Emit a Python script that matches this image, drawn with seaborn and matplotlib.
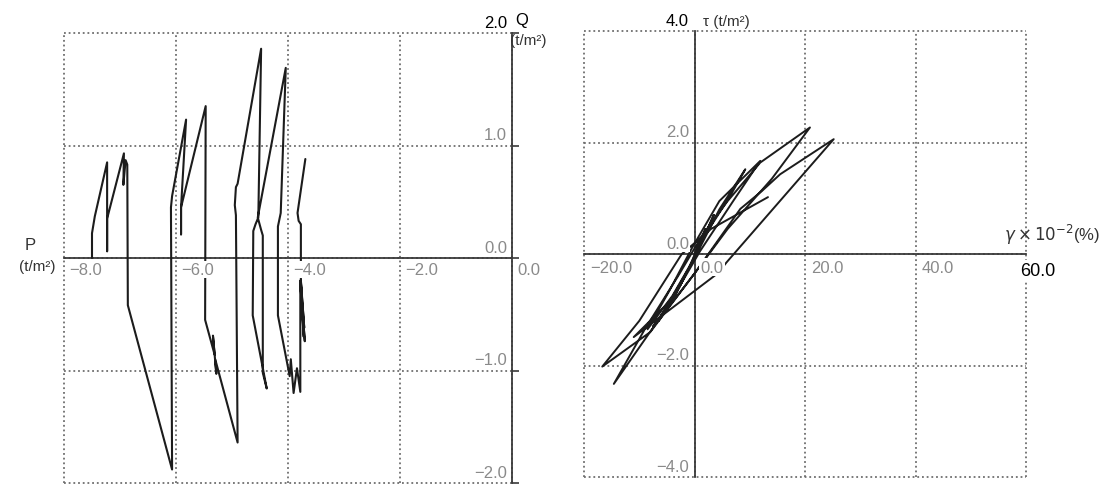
import matplotlib
matplotlib.use("Agg")
import matplotlib.pyplot as plt
import seaborn as sns

sns.set_theme(style="white")
plt.rcParams['font.family'] = ['Liberation Sans', 'DejaVu Sans']

# Effective stress path: mean stress P vs deviator stress Q (t/m^2)
p_path = [-7.50, -7.50, -7.45, -7.23, -7.23, -7.23, -6.93, -6.94, -6.90, -6.87,
          -6.86, -6.07, -6.09, -6.07, -5.82, -5.91, -5.91, -5.91, -5.47, -5.48,
          -5.31, -5.34, -5.28, -5.30, -4.90, -4.93, -4.95, -4.93, -4.90, -4.48,
          -4.53, -4.58, -4.62, -4.63, -4.38, -4.45, -4.45, -4.48, -4.54, -4.04,
          -4.13, -4.18, -4.18, -3.97, -3.95, -3.90, -3.84, -3.78, -3.78, -3.70,
          -3.78, -3.72, -3.77, -3.71, -3.77, -3.77, -3.81, -3.83, -3.69]
q_path = [0.00, 0.22, 0.37, 0.85, 0.06, 0.35, 0.93, 0.65, 0.87, 0.83,
          -0.42, -1.88, 0.45, 0.55, 1.23, 0.45, 0.21, 0.45, 1.35, -0.55,
          -0.86, -0.69, -1.03, -0.90, -1.64, 0.38, 0.47, 0.63, 0.66, 1.86,
          0.36, 0.30, 0.24, -0.51, -1.16, -1.02, 0.20, 0.25, 0.36, 1.69,
          0.40, 0.28, -0.51, -1.05, -0.90, -1.20, -0.98, -1.19, -0.20, -0.74,
          -0.22, -0.70, -0.20, -0.62, -0.22, 0.30, 0.33, 0.40, 0.88]

# Shear strain gamma (x10^-2 %) vs shear stress tau (t/m^2)
gamma = [0.0, 2.0, -1.0, -5.0, -7.5, -4.0, -6.5, -2.5, 1.0, 3.5,
         1.0, -3.5, -6.0, -2.0, 2.0, 6.5, 9.2, 4.5, 0.5, -4.0,
         -8.5, -4.5, -0.5, 4.5, 11.9, 7.0, 1.0, -4.0, -11.0, 4.3,
         5.8, 25.2, 15.5, 12.2, 8.3, 0.0, -7.0, -14.6, -9.0, -3.0,
         1.5, 6.0, 11.9, 20.9, 14.0, 6.0, 0.0, -8.0, -16.7, -10.0,
         -2.3, 3.0, 13.3]
tau = [0.0, 0.45, -0.25, -0.95, -1.30, -0.85, -1.20, -0.55, 0.15, 0.70,
       0.15, -0.75, -1.10, -0.45, 0.35, 1.05, 1.52, 0.80, 0.02, -0.75,
       -1.35, -0.65, 0.10, 0.95, 1.67, 0.95, 0.05, -0.80, -1.49, -0.34,
       -0.15, 2.06, 1.43, 1.13, 0.81, -0.35, -1.25, -2.33, -1.35, -0.40,
       0.35, 0.95, 1.64, 2.27, 1.35, 0.45, -0.35, -1.40, -2.02, -1.20,
       0.0, 0.45, 1.02]

p_ticks = [-8.0, -6.0, -4.0, -2.0, 0.0]
q_ticks = [-2.0, -1.0, 0.0, 1.0, 2.0]
g_ticks = [-20.0, 0.0, 20.0, 40.0, 60.0]
t_ticks = [-4.0, -2.0, 0.0, 2.0, 4.0]

LINE = '#1c1c1c'
AXIS = '#3a3a3a'
GRID = '#6e6e6e'
LAB = '#8a8a8a'
DOT = (0, (1, 1.6))
BOX = dict(boxstyle='square,pad=0.08', fc='white', ec='none')

fig = plt.figure(figsize=(11.03, 4.85), dpi=100)
axL = fig.add_axes([64 / 1103, 1 - 484 / 485, 448 / 1103, 450 / 485])
axR = fig.add_axes([584 / 1103, 1 - 478 / 485, 442 / 1103, 446 / 485])


def frame(ax, xt, yt):
    ax.set_xlim(xt[0], xt[-1])
    ax.set_ylim(yt[0], yt[-1])
    for v in xt:
        ax.axvline(v, color=GRID, lw=1.3, ls=DOT, clip_on=False, zorder=0)
    for v in yt:
        ax.axhline(v, color=GRID, lw=1.3, ls=DOT, clip_on=False, zorder=0)
    for s in ax.spines.values():
        s.set_visible(False)
    ax.set_xticks(xt)
    ax.set_yticks(yt)
    ax.set_xticklabels([])
    ax.set_yticklabels([])
    ax.set_facecolor('white')


# ---- left: P-Q stress path ----
frame(axL, p_ticks, q_ticks)
axL.spines['bottom'].set_visible(True)
axL.spines['bottom'].set_position(('data', 0))
axL.spines['right'].set_visible(True)
for s in ('bottom', 'right'):
    axL.spines[s].set_color(AXIS)
    axL.spines[s].set_linewidth(1.3)
axL.yaxis.tick_right()
axL.tick_params(axis='y', direction='out', length=5, width=1.2, color=AXIS, labelright=False)
axL.tick_params(axis='x', length=0)

sns.lineplot(x=p_path, y=q_path, sort=False, estimator=None, color=LINE, lw=1.5, ax=axL, zorder=3)

for v in p_ticks:
    axL.text(v + 0.09, -0.035, f"{v:.1f}".replace('-', '\u2212'), ha='left', va='top',
             color=LAB, fontsize=12, bbox=BOX, zorder=6)
for v in q_ticks:
    axL.text(-0.09, v + 0.03, f"{v:.1f}".replace('-', '\u2212'), ha='right', va='bottom',
             color=('black' if v == 2.0 else LAB), fontsize=12, bbox=BOX, zorder=6)
axL.text(0.05, 2.05, "Q", ha='left', va='bottom', fontsize=12, color='black')
axL.text(-0.04, 2.0, "(t/m\u00b2)", ha='left', va='top', fontsize=11, color='#333333')
axL.text(-8.61, 0.05, "P", ha='center', va='bottom', fontsize=12, color='#333333')
axL.text(-8.15, -0.01, "(t/m\u00b2)", ha='right', va='top', fontsize=11, color='#333333')

# ---- right: shear stress-strain loops ----
frame(axR, g_ticks, t_ticks)
axR.spines['bottom'].set_visible(True)
axR.spines['bottom'].set_position(('data', 0))
axR.spines['left'].set_visible(True)
axR.spines['left'].set_position(('data', 0))
for s in ('bottom', 'left'):
    axR.spines[s].set_color(AXIS)
    axR.spines[s].set_linewidth(1.3)
axR.tick_params(axis='both', direction='inout', length=5, width=1.2, color=AXIS)

sns.lineplot(x=gamma, y=tau, sort=False, estimator=None, color=LINE, lw=1.4, ax=axR, zorder=3)

for v in g_ticks:
    if v == 60.0:
        axR.text(59.0, -0.14, f"{v:.1f}", ha='left', va='top', color='black',
                 fontsize=13, bbox=BOX, zorder=6)
    else:
        axR.text(v + 1.1, -0.1, f"{v:.1f}".replace('-', '\u2212'), ha='left', va='top',
                 color=LAB, fontsize=12, bbox=BOX, zorder=6)
for v in t_ticks:
    axR.text(-1.0, v + 0.06, f"{v:.1f}".replace('-', '\u2212'), ha='right', va='bottom',
             color=('black' if v == 4.0 else LAB), fontsize=12, bbox=BOX, zorder=6)
axR.text(1.6, 4.06, "\u03c4 (t/m\u00b2)", ha='left', va='bottom', fontsize=11, color='#333333')
axR.text(56.0, 0.15, r"$\gamma\times10^{-2}$(%)", ha='left', va='bottom', fontsize=12, color='#333333')

fig.savefig("out.png", dpi=100, facecolor='white')
